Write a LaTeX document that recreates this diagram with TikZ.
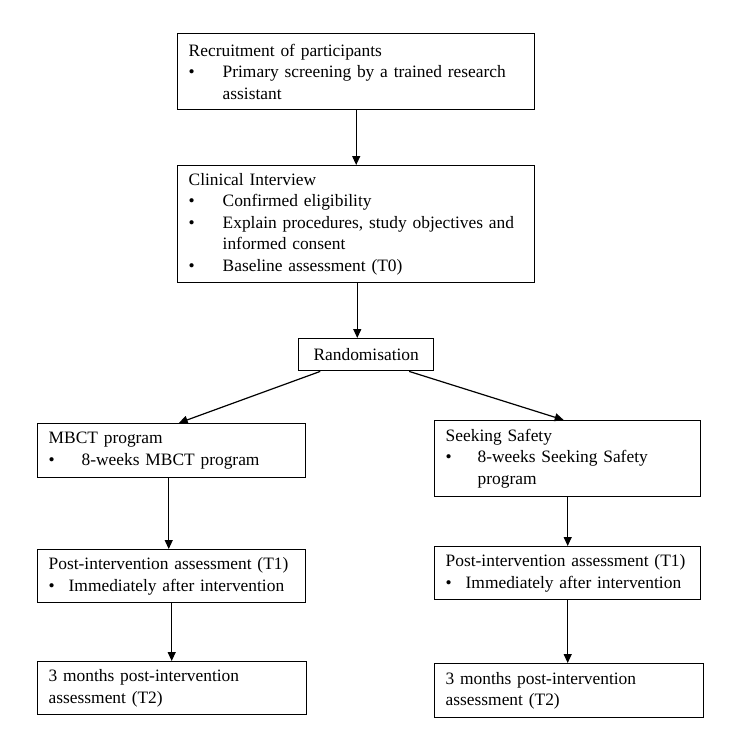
\documentclass[tikz,border=0pt]{standalone}
\usepackage{fontspec}
\setmainfont{Liberation Serif}
\usetikzlibrary{arrows.meta,calc}
\newcommand{\bulitem}[2]{\par\hangindent=#1\hangafter=1\noindent\makebox[#1][l]{\textbullet}\ignorespaces #2\par}
\newcommand{\nl}{\hfil\break}
\begin{document}
\begin{tikzpicture}[x=1pt,y=1pt,
  box/.style={draw, line width=1.4pt, anchor=north west, inner xsep=11pt, inner ysep=0pt,
    align=left, font=\fontsize{17.4}{21.6}\selectfont},
  conn/.style={line width=1.2pt, -{Triangle[length=9pt,width=8pt]}}]
\useasboundingbox (0,0) rectangle (744,-732);

\node[box, text width=335pt, minimum height=76pt] (b1) at (177,-33)
  {Recruitment of participants\bulitem{34pt}{Primary screening by a trained research\nl assistant}};
\node[box, text width=335pt, minimum height=117pt] (b2) at (177,-165)
  {Clinical Interview\bulitem{34pt}{Confirmed eligibility}\bulitem{34pt}{Explain procedures, study objectives and\nl informed consent}\bulitem{34pt}{Baseline assessment (T0)}};
\node[box, minimum width=135pt, minimum height=32pt, inner xsep=0pt, align=center] (r) at (298,-338)
  {Randomisation};

\node[box, text width=246pt, minimum height=54pt] (m1) at (37,-423)
  {MBCT program\bulitem{33pt}{8-weeks MBCT program}};
\node[box, text width=244pt, minimum height=76pt] (s1) at (434,-420)
  {Seeking Safety\bulitem{32pt}{8-weeks Seeking Safety\nl program}};

\node[box, text width=246pt, minimum height=53pt] (m2) at (37,-549)
  {\mbox{Post-intervention assessment (T1)}\bulitem{20pt}{Immediately after intervention}};
\node[box, text width=244pt, minimum height=53pt] (s2) at (434,-546)
  {\mbox{Post-intervention assessment (T1)}\bulitem{20pt}{Immediately after intervention}};

\node[box, text width=247pt, minimum height=53pt] (m3) at (37,-661)
  {3 months post-intervention\nl assessment (T2)};
\node[box, text width=247pt, minimum height=54pt] (s3) at (434,-663)
  {3 months post-intervention\nl assessment (T2)};

\coordinate (b2out) at ($(b2.south west)!0.503!(b2.south east)$);
\coordinate (rl) at ($(r.south west)!0.163!(r.south east)$);
\coordinate (rr) at ($(r.south west)!0.815!(r.south east)$);
\coordinate (m1in) at ($(m1.north west)!0.526!(m1.north east)$);
\coordinate (s1in) at ($(s1.north west)!0.485!(s1.north east)$);
\coordinate (m1out) at ($(m1.south west)!0.489!(m1.south east)$);

\draw[conn] (b1.south) -- (b1.south |- b2.north);
\draw[conn] (b2out) -- (b2out |- r.north);
\draw[conn] (rl) -- (m1in);
\draw[conn] (rr) -- (s1in);
\draw[conn] (m1out) -- (m1out |- m2.north);
\draw[conn] (m2.south) -- (m2.south |- m3.north);
\draw[conn] (s1.south) -- (s1.south |- s2.north);
\draw[conn] (s2.south) -- (s2.south |- s3.north);
\end{tikzpicture}
\end{document}
